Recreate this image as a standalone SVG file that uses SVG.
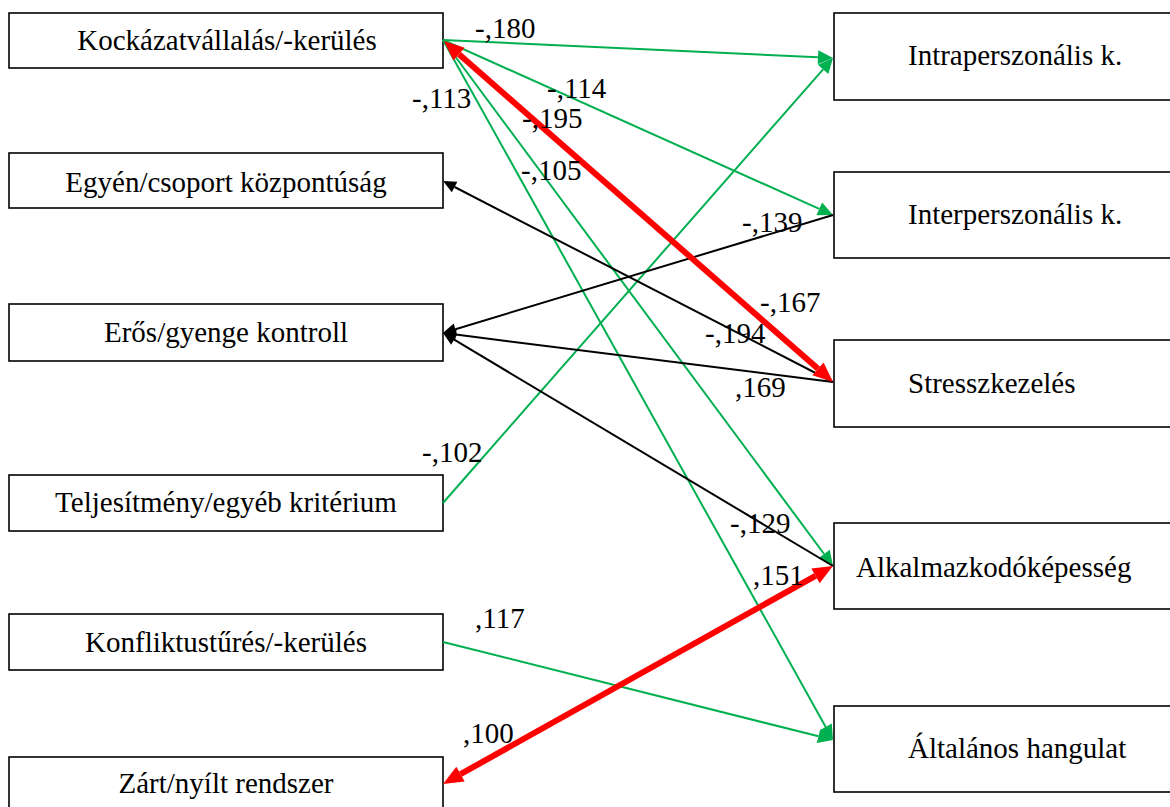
<svg xmlns="http://www.w3.org/2000/svg" width="1170" height="807" viewBox="0 0 1170 807">
  <style>
    .box { fill: #ffffff; stroke: #000000; stroke-width: 1.6; }
    text { font-family: "Liberation Serif", "Times New Roman", serif; font-size: 29px; fill: #000000; }
    .mid { text-anchor: middle; }
    .g { fill: none; stroke: #00B050; stroke-width: 2; }
    .k { fill: none; stroke: #000000; stroke-width: 2; }
    .r { fill: none; stroke: #FF0000; stroke-width: 6; }
  </style>
  <defs>
    <marker id="ahG" markerUnits="userSpaceOnUse" markerWidth="16" markerHeight="14" refX="0" refY="7" orient="auto" overflow="visible">
      <path d="M0,0 L15,7 L0,14 z" fill="#00B050"/>
    </marker>
    <marker id="ahK" markerUnits="userSpaceOnUse" markerWidth="14" markerHeight="12" refX="0" refY="6" orient="auto" overflow="visible">
      <path d="M0,0 L13,6 L0,12 z" fill="#000000"/>
    </marker>
    <marker id="ahR" markerUnits="userSpaceOnUse" markerWidth="21" markerHeight="18" refX="0" refY="8.5" orient="auto-start-reverse" overflow="visible">
      <path d="M0,0 L20,8.5 L0,17 z" fill="#FF0000"/>
    </marker>
  </defs>

  <rect width="1170" height="807" fill="#ffffff"/>

  <!-- left column -->
  <g id="kockazat"><rect class="box" x="9" y="13" width="434" height="55"/><text class="mid" x="227" y="50">Kockázatvállalás/-kerülés</text></g>
  <g id="egyen"><rect class="box" x="9" y="153" width="434" height="55"/><text class="mid" x="226" y="192">Egyén/csoport központúság</text></g>
  <g id="eros"><rect class="box" x="9" y="304" width="434" height="57"/><text class="mid" x="226" y="342">Erős/gyenge kontroll</text></g>
  <g id="teljesitmeny"><rect class="box" x="9" y="475" width="434" height="56"/><text class="mid" x="226" y="512">Teljesítmény/egyéb kritérium</text></g>
  <g id="konfliktus"><rect class="box" x="9" y="614" width="434" height="56"/><text class="mid" x="226" y="652">Konfliktustűrés/-kerülés</text></g>
  <g id="zart"><rect class="box" x="9" y="757" width="434" height="100"/><text class="mid" x="226" y="793">Zárt/nyílt rendszer</text></g>

  <!-- right column -->
  <g id="intra"><rect class="box" x="834" y="13" width="400" height="87"/><text x="908" y="65">Intraperszonális k.</text></g>
  <g id="inter"><rect class="box" x="834" y="172" width="400" height="86"/><text x="908" y="224">Interperszonális k.</text></g>
  <g id="stressz"><rect class="box" x="834" y="340" width="400" height="87"/><text x="908" y="393">Stresszkezelés</text></g>
  <g id="alkalmazkodo"><rect class="box" x="834" y="523" width="400" height="86"/><text x="856" y="577">Alkalmazkodóképesség</text></g>
  <g id="altalanos"><rect class="box" x="834" y="706" width="400" height="86"/><text x="908" y="758">Általános hangulat</text></g>

  <!-- connectors: lines end at the arrowhead base, markers add the heads -->
  <g id="connectors">
    <path class="g" d="M443,40 L818,57.3" marker-end="url(#ahG)"/>
    <path class="g" d="M443,40 L819.3,208.9" marker-end="url(#ahG)"/>
    <path class="g" d="M443,40 L824.1,554" marker-end="url(#ahG)"/>
    <path class="g" d="M443,40 L825.7,726.9" marker-end="url(#ahG)"/>
    <path class="g" d="M443,503 L823.1,69.3" marker-end="url(#ahG)"/>
    <path class="g" d="M443,642 L818.5,736.3" marker-end="url(#ahG)"/>

    <path class="k" d="M833,382 L454.6,187" marker-end="url(#ahK)"/>
    <path class="k" d="M833,215 L455.4,329.2" marker-end="url(#ahK)"/>
    <path class="k" d="M833,382 L455.9,334.6" marker-end="url(#ahK)"/>
    <path class="k" d="M833,566 L454.2,339.7" marker-end="url(#ahK)"/>

    <path class="r" d="M459,54.2 L818,368.8" marker-start="url(#ahR)" marker-end="url(#ahR)"/>
    <path class="r" d="M460.5,774.2 L815.5,575.8" marker-start="url(#ahR)" marker-end="url(#ahR)"/>
  </g>

  <!-- path coefficients -->
  <g id="coefficients">
    <text x="475" y="38">-,180</text>
    <text x="547" y="98">-,114</text>
    <text x="412" y="108">-,113</text>
    <text x="522" y="128">-,195</text>
    <text x="521" y="180">-,105</text>
    <text x="742" y="232">-,139</text>
    <text x="760" y="312">-,167</text>
    <text x="705" y="343">-,194</text>
    <text x="735" y="397">,169</text>
    <text x="422" y="462">-,102</text>
    <text x="730" y="533">-,129</text>
    <text x="753" y="585">,151</text>
    <text x="475" y="628">,117</text>
    <text x="463" y="743">,100</text>
  </g>
</svg>
